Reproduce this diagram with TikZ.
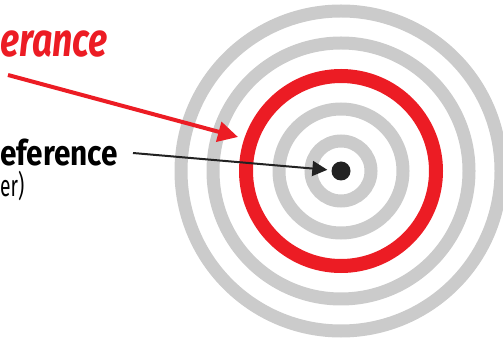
\documentclass[tikz,border=0pt]{standalone}
\usepackage{fontspec}
\newfontfamily\tolfont[FakeStretch=0.76]{Fira Sans}
\newfontfamily\reffont[FakeStretch=0.85]{Fira Sans}
\newfontfamily\cenfont[FakeStretch=0.64]{Fira Sans}
\usetikzlibrary{arrows.meta}
\definecolor{ringgray}{HTML}{CBCBCB}
\definecolor{tolred}{HTML}{EC1C24}
\definecolor{dotblack}{HTML}{222222}

\begin{document}
\begin{tikzpicture}[x=1pt, y=-1pt,
        ring/.style={draw=ringgray, line width=13pt},
        redring/.style={draw=tolred, line width=14pt},
        bullseye/.style={circle, fill=dotblack, minimum size=19pt, inner sep=0pt}]
        \useasboundingbox (0, 0) rectangle (503, 344);
        % Rings and centre:
        \foreach \r in {30, 62, 128, 160}
            \draw[ring] (341, 171) circle (\r pt);
        \draw[redring] (341, 171) circle (95pt);
        \node[bullseye] (bull) at (341, 171) {};
        % Labels:
        \node[anchor=base west, inner sep=0pt, text=tolred] (tol) at (0, 57)
            {\tolfont\fontsize{47}{47}\selectfont\bfseries\itshape erance};
        \node[anchor=base west, inner sep=0pt] (ref) at (0, 166)
            {\reffont\fontsize{35}{35}\selectfont\bfseries eference};
        \node[anchor=base west, inner sep=0pt] (cen) at (0, 197)
            {\cenfont\fontsize{30}{30}\selectfont er)};
        % Arrows:
        \coordinate (tolstart) at (8, 75);
        \coordinate (tolend) at (238, 137);
        \coordinate (refstart) at (133, 153);
        \draw[tolred, line width=4pt, -{Triangle[length=20pt, width=20pt]}] (tolstart) -- (tolend);
        \draw[dotblack, line width=2pt, -{Triangle[length=15pt, width=15pt]}, shorten >=4pt] (refstart) -- (bull);
    \end{tikzpicture}
\end{document}
